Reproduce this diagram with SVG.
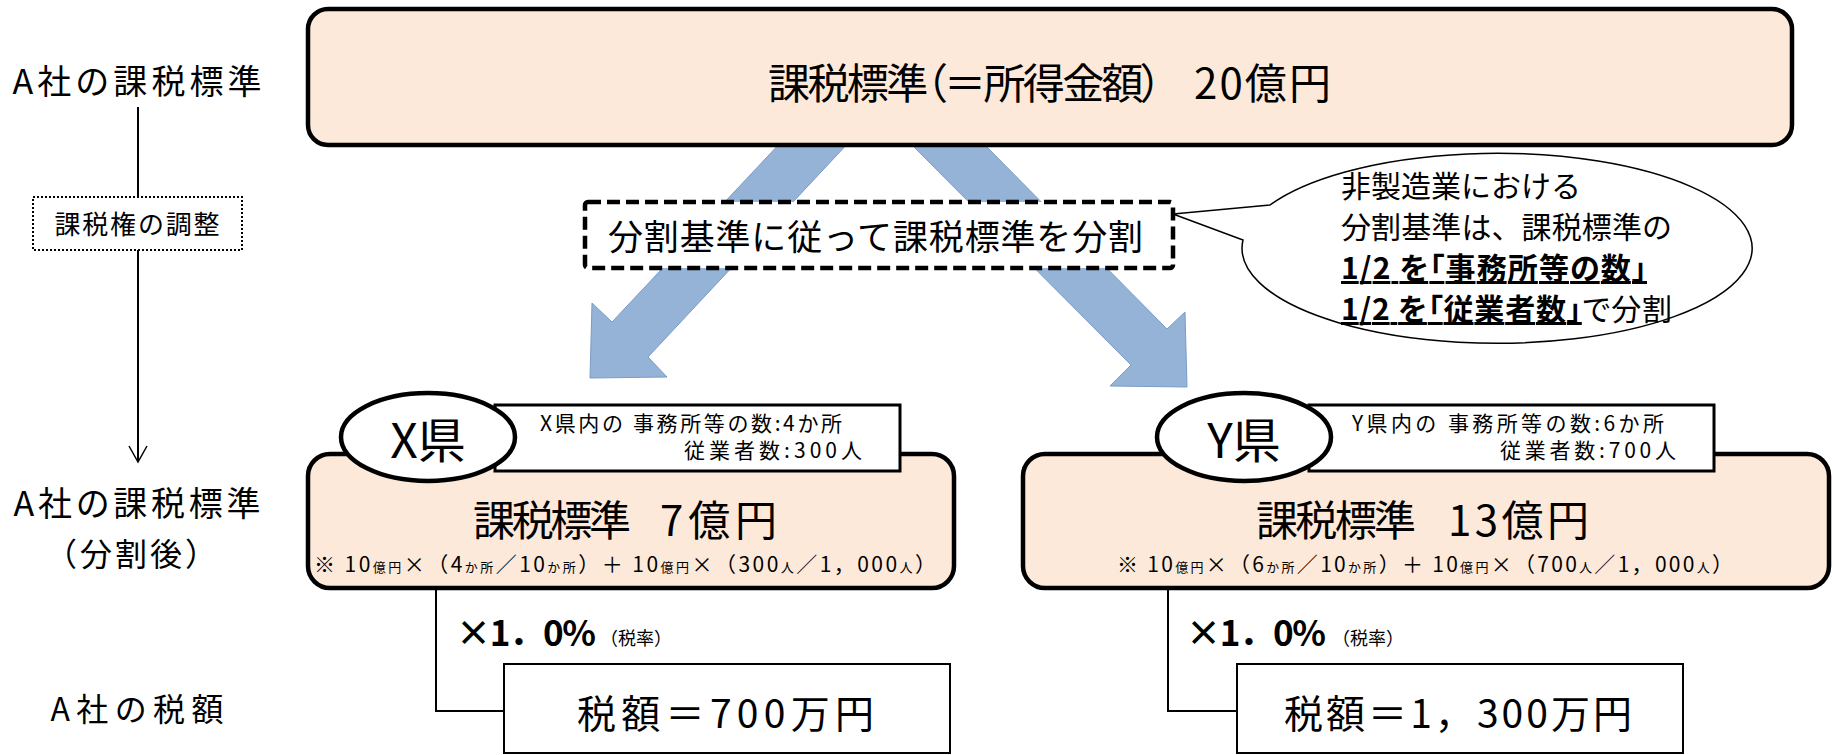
<svg xmlns="http://www.w3.org/2000/svg" width="1832" height="755" viewBox="0 0 1832 755">
<style>
text{font-family:"Noto Sans CJK JP","Noto Sans CJK SC",sans-serif;fill:#000}
.palt{font-feature-settings:"palt" 1}
.peach{fill:#FDE9D9;stroke:#000;stroke-width:4.5}
.white{fill:#fff;stroke:#000}
.arrow{fill:#95B3D7;stroke:#7A9CC6;stroke-width:1}
.conn{fill:none;stroke:#000;stroke-width:2}
.b{font-weight:bold}
</style>
<defs>
<marker id="open" viewBox="0 0 20 20" refX="18" refY="10" markerWidth="20" markerHeight="20" markerUnits="userSpaceOnUse" orient="auto">
<path d="M2,1 L18,10 L2,19" fill="none" stroke="#000" stroke-width="1.5"/>
</marker>
</defs>

<g id="left-labels">
<text x="137" y="94" font-size="34" text-anchor="middle" textLength="249">A社の課税標準</text>
<text x="137" y="516" font-size="34" text-anchor="middle" textLength="247">A社の課税標準</text>
<text x="131" y="566" font-size="32" text-anchor="middle" textLength="172">（分割後）</text>
<text x="137" y="721" font-size="32" text-anchor="middle" textLength="173">A社の税額</text>
</g>

<g id="connectors">
<line class="conn" x1="138" y1="107" x2="138" y2="197" stroke-width="1.5"/>
<line class="conn" x1="138" y1="250" x2="138" y2="462" stroke-width="1.5" marker-end="url(#open)"/>
<polygon class="arrow" points="783,140 851,140 648,357 667,377 590,378 592,303 612,322"/>
<polygon class="arrow" points="907,140 980,140 1167,329 1185,312 1187,387 1110,386 1131,365"/>
<path class="conn" d="M436,588 V711 H504"/>
<path class="conn" d="M1168,588 V711 H1237"/>
</g>

<g id="adjust">
<rect x="33" y="197" width="209" height="53" fill="#fff" stroke="#000" stroke-width="2" stroke-dasharray="2 2"/>
<text x="137" y="234" font-size="26" text-anchor="middle" textLength="165">課税権の調整</text>
</g>

<g id="top">
<rect class="peach" x="308" y="9" width="1484" height="136" rx="20"/>
<text x="768" y="99" font-size="42" class="palt" textLength="394">課税標準（＝所得金額）</text>
<text x="1194" y="99" font-size="42" textLength="137">20億円</text>
</g>

<g id="split">
<rect x="585" y="202" width="588" height="66" rx="3" fill="#fff" stroke="#000" stroke-width="4.5" stroke-dasharray="13 6"/>
<text x="608" y="250" font-size="35" textLength="535">分割基準に従って課税標準を分割</text>
</g>

<g id="bubble">
<path d="M1270,205 L1173,214 L1243,240 A255 95 0 1 0 1270,205 Z" fill="#fff" stroke="#000" stroke-width="1.5"/>
<text x="1341" y="197" font-size="30" textLength="240">非製造業における</text>
<text x="1341" y="238" font-size="30" textLength="331">分割基準は、課税標準の</text>
<text x="1341" y="279" font-size="30" class="b palt" text-decoration="underline" textLength="306">1/2 を「事務所等の数」</text>
<text x="1341" y="320" font-size="30" class="palt" textLength="331"><tspan class="b" text-decoration="underline">1/2 を「従業者数」</tspan>で分割</text>
</g>

<g id="x-pref">
<rect class="peach" x="308" y="454" width="646" height="134" rx="22"/>
<rect class="white" x="495" y="405" width="405" height="66" stroke-width="3"/>
<ellipse class="white" cx="428" cy="437" rx="87" ry="44" stroke-width="4.5"/>
<text x="428" y="458" font-size="48" text-anchor="middle">X県</text>
<text x="540" y="431" font-size="21" textLength="302">X県内の 事務所等の数:4か所</text>
<text x="684" y="458" font-size="21" textLength="178">従業者数:300人</text>
<text x="473" y="536" font-size="42" textLength="158">課税標準</text>
<text x="660" y="536" font-size="42" textLength="117">7億円</text>
<text x="314" y="572" font-size="21" textLength="622">※ 10<tspan font-size="13">億円</tspan>×（4<tspan font-size="13">か所</tspan>／10<tspan font-size="13">か所</tspan>）＋ 10<tspan font-size="13">億円</tspan>×（300<tspan font-size="13">人</tspan>／1，000<tspan font-size="13">人</tspan>）</text>
</g>

<g id="y-pref">
<rect class="peach" x="1023" y="454" width="806" height="134" rx="22"/>
<rect class="white" x="1309" y="405" width="405" height="66" stroke-width="3"/>
<ellipse class="white" cx="1244" cy="437" rx="87" ry="44" stroke-width="4.5"/>
<text x="1244" y="458" font-size="48" text-anchor="middle">Y県</text>
<text x="1352" y="431" font-size="21" textLength="312">Y県内の 事務所等の数:6か所</text>
<text x="1500" y="458" font-size="21" textLength="176">従業者数:700人</text>
<text x="1256" y="536" font-size="42" textLength="160">課税標準</text>
<text x="1448" y="536" font-size="42" textLength="141">13億円</text>
<text x="1117" y="572" font-size="21" textLength="616">※ 10<tspan font-size="13">億円</tspan>×（6<tspan font-size="13">か所</tspan>／10<tspan font-size="13">か所</tspan>）＋ 10<tspan font-size="13">億円</tspan>×（700<tspan font-size="13">人</tspan>／1，000<tspan font-size="13">人</tspan>）</text>
</g>

<g id="x-tax">
<text x="456" y="646" font-size="35" class="b" textLength="140">×1．0%</text>
<text x="600" y="645" font-size="18" textLength="72">（税率）</text>
<rect class="white" x="504" y="664" width="446" height="89" stroke-width="2"/>
<text x="577" y="728" font-size="39" textLength="297">税額＝700万円</text>
</g>

<g id="y-tax">
<text x="1186" y="646" font-size="35" class="b" textLength="140">×1．0%</text>
<text x="1332" y="645" font-size="18" textLength="72">（税率）</text>
<rect class="white" x="1237" y="664" width="446" height="89" stroke-width="2"/>
<text x="1284" y="728" font-size="39" textLength="348">税額＝1，300万円</text>
</g>
</svg>
